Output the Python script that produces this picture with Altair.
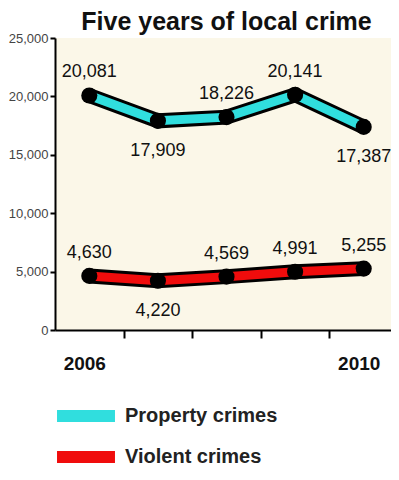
import altair as alt
import pandas as pd

years = [2006, 2007, 2008, 2009, 2010]
property_crimes = [20081, 17909, 18226, 20141, 17387]
violent_crimes = [4630, 4220, 4569, 4991, 5255]
property_label_pos = ["above", "below", "above", "above", "below"]
violent_label_pos = ["above", "below", "above", "above", "above"]
series_names = ["Property crimes", "Violent crimes"]
series_colors = ["#30dede", "#f00c0c"]
y_ticks = [0, 5000, 10000, 15000, 20000, 25000]
year_labels = [2006, 2010]

rows = []
for name, vals, pos in [(series_names[0], property_crimes, property_label_pos),
                        (series_names[1], violent_crimes, violent_label_pos)]:
    for yr, v, p in zip(years, vals, pos):
        rows.append({"year": yr, "value": v, "series": name, "pos": p})
df = pd.DataFrame(rows)

W, H = 343, 292
FONT = "Liberation Sans"
half = W / len(years) / 2

label_test = " || ".join(f"datum.value == {y}" for y in year_labels)

x = alt.X(
    "year:Q",
    scale=alt.Scale(domain=[years[0] - 0.5, years[-1] + 0.5], nice=False, zero=False),
    axis=alt.Axis(
        values=years, format="d", labelExpr=f"({label_test}) ? datum.label : ''",
        tickOffset=half, tickSize=8, tickWidth=2, tickColor="black",
        domainColor="black", domainWidth=2, grid=False, title=None,
        labelFont=FONT, labelFontSize=19, labelFontWeight="bold", labelColor="#111",
        labelPadding=16, labelOffset=-half - 5,
    ),
)
y = alt.Y(
    "value:Q",
    scale=alt.Scale(domain=[0, 25000], nice=False),
    axis=alt.Axis(
        values=y_ticks, format=",d", tickSize=5, tickWidth=2, tickColor="black",
        domainColor="black", domainWidth=2, grid=False, title=None,
        labelFont=FONT, labelFontSize=13, labelColor="#444", labelPadding=2,
    ),
)

base = alt.Chart(df).encode(x=x, y=y)

outline = base.mark_line(color="black", strokeWidth=15).encode(detail="series:N")
inner = base.mark_line(strokeWidth=9).encode(
    color=alt.Color(
        "series:N",
        scale=alt.Scale(domain=series_names, range=series_colors),
        legend=alt.Legend(
            orient="none", legendX=19, legendY=366, title=None,
            symbolType="M-4.83,0L4.83,0", symbolStrokeWidth=12, symbolSize=144,
            labelFont=FONT, labelFontSize=20, labelFontWeight="bold",
            labelColor="#222", labelOffset=27, rowPadding=-7,
        ),
    )
)
points = base.mark_circle(size=260, color="black", opacity=1)
above = base.transform_filter(alt.datum.pos == "above").mark_text(
    dy=-23, fontSize=18, font=FONT, color="#111"
).encode(text=alt.Text("value:Q", format=","))
below = base.transform_filter(alt.datum.pos == "below").mark_text(
    dy=30, fontSize=18, font=FONT, color="#111"
).encode(text=alt.Text("value:Q", format=","))

chart = alt.layer(outline, inner, points, above, below).properties(
    width=W, height=H,
    title=alt.TitleParams("Five years of local crime", font=FONT, fontSize=25,
                          fontWeight="bold", color="#111", anchor="middle", offset=-3),
    autosize=alt.AutoSizeParams(type="none"),
    padding={"left": 47, "top": 30, "right": -7, "bottom": 140},
).configure_view(fill="#fbf7e8", stroke=None)

chart.save("out.html", embed_options={"renderer": "svg", "actions": False})
